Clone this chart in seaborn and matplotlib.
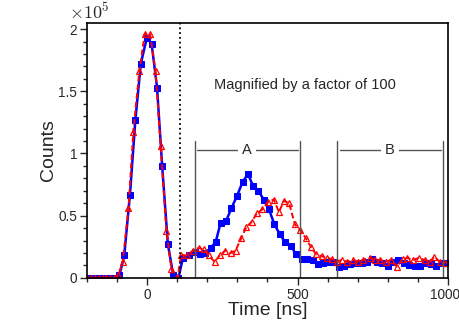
import numpy as np
import pandas as pd
import matplotlib
matplotlib.use("Agg")
import matplotlib.pyplot as plt
import matplotlib.transforms as mtransforms
import seaborn as sns

# time axis in ns, counts in units of 1e5 (tail shown x100)
blue_t = [-200, -184, -168, -152, -136, -120, -104, -92, -76, -57, -39, -21, -1, 15, 33, 50, 69, 87, 104,
          119, 139, 158, 177, 193, 211, 228, 244, 263, 280, 299, 317, 335, 352, 370, 387, 405, 423, 441, 458,
          478, 494, 514, 532, 550, 567, 584, 600, 617, 637, 654, 674, 693, 713, 730, 747, 763, 780, 799, 817,
          833, 852, 871, 889, 908, 924, 943, 960, 980, 999]
blue_y = [0, 0, 0, 0, 0, 0, 0, 0.02, 0.18, 0.67, 1.27, 1.72, 1.93, 1.88, 1.53, 0.90, 0.27, 0.02, 0.0,
          0.16, 0.18, 0.21, 0.19, 0.20, 0.24, 0.29, 0.44, 0.46, 0.56, 0.66, 0.77, 0.835, 0.74, 0.70, 0.63,
          0.55, 0.43, 0.35, 0.29, 0.26, 0.19, 0.15, 0.15, 0.14, 0.11, 0.12, 0.13, 0.125, 0.085, 0.095, 0.11,
          0.12, 0.12, 0.13, 0.15, 0.13, 0.12, 0.095, 0.13, 0.14, 0.12, 0.105, 0.095, 0.095, 0.12, 0.11,
          0.095, 0.12, 0.12]

red_t = [-200, -187, -174, -161, -148, -135, -122, -109, -96, -81, -62, -46, -26, -8, 10, 28, 45, 64, 81, 101,
         113, 132, 152, 171, 188, 205, 224, 241, 260, 278, 294, 313, 330, 347, 365, 383, 402, 421, 438, 455,
         472, 491, 508, 527, 544, 561, 580, 597, 615, 630, 647, 663, 683, 702, 719, 739, 758, 774, 794, 811,
         830, 849, 865, 885, 902, 922, 939, 955, 972, 991]
red_y = [0, 0, 0, 0, 0, 0, 0, 0, 0.02, 0.13, 0.56, 1.17, 1.66, 1.96, 1.96, 1.66, 1.06, 0.38, 0.07, 0.0,
         0.185, 0.18, 0.22, 0.24, 0.23, 0.18, 0.13, 0.18, 0.22, 0.20, 0.22, 0.32, 0.41, 0.45, 0.52, 0.55,
         0.61, 0.63, 0.53, 0.62, 0.60, 0.43, 0.385, 0.32, 0.25, 0.19, 0.175, 0.16, 0.15, 0.13, 0.145, 0.13,
         0.145, 0.13, 0.145, 0.16, 0.145, 0.145, 0.13, 0.145, 0.09, 0.15, 0.16, 0.145, 0.16, 0.145, 0.13,
         0.17, 0.13, 0.12]

cut_t = 110
bracket_a = [158, 508]
bracket_b = [632, 983]

sns.set_style("ticks")
plt.rcParams["font.family"] = ["Liberation Sans", "DejaVu Sans"]
plt.rcParams["mathtext.fontset"] = "cm"

fig = plt.figure(figsize=(4.6, 3.22), dpi=100)
ax = fig.add_axes([0.189, 0.137, 0.785, 0.792])

sns.lineplot(x=blue_t, y=blue_y, ax=ax, color="#0000ff", lw=1.8, marker="s", markersize=4,
             markeredgecolor="#0000ff", markerfacecolor="#0000ff", estimator=None, sort=False)
sns.lineplot(x=red_t, y=red_y, ax=ax, color="#ff0000", lw=1.4, linestyle="--", marker="^", markersize=4.5,
             markeredgecolor="#ff0000", markerfacecolor="none", markeredgewidth=0.9,
             estimator=None, sort=False)
ax.lines[1].set_dashes([3, 1.5])

ax.axvline(cut_t, color="black", ls=":", lw=1.3)

# A / B brackets
for (x0, x1), lab in [(bracket_a, "A"), (bracket_b, "B")]:
    ax.plot([x0, x0], [0, 1.10], color="#555555", lw=1)
    ax.plot([x1, x1], [0, 1.10], color="#555555", lw=1)
    ax.plot([x0 + 8, x1 - 8], [1.03, 1.03], color="#555555", lw=1)
    ax.text((x0 + x1) / 2, 1.03, lab, ha="center", va="center", fontsize=10.5,
            bbox=dict(facecolor="white", edgecolor="none", pad=3))

ax.text(526, 1.55, "Magnified by a factor of 100", ha="center", va="center", fontsize=10.5)

ax.set_xlim(-200, 1000)
ax.set_ylim(0, 2.05)
ax.set_xticks([0, 500, 1000])
ax.set_xticks(np.arange(-200, 1001, 100), minor=True)
ax.set_yticks([0, 0.5, 1, 1.5, 2])
ax.set_yticklabels(["0", "0.5", "1", "1.5", "2"])
ax.set_yticks(np.arange(0, 2.01, 0.1), minor=True)
ax.tick_params(axis="both", which="major", direction="out", length=5, width=1, labelsize=9.8, pad=2)
ax.tick_params(axis="both", which="minor", direction="out", length=3, width=1)
for s in ax.spines.values():
    s.set_linewidth(1.2)
    s.set_color("black")

# nudge the last x label so it stays inside the figure
fig.canvas.draw()
last = ax.get_xticklabels()[-1]
last.set_transform(last.get_transform() + mtransforms.ScaledTranslation(-3 / 100, 0, fig.dpi_scale_trans))

ax.set_xlabel("Time [ns]", fontsize=14, labelpad=0)
ax.set_ylabel("Counts", fontsize=14, labelpad=1)
fig.text(0.195, 0.962, r"$\times10^5$", ha="center", va="center", fontsize=13)

fig.savefig("out.png", dpi=100)
